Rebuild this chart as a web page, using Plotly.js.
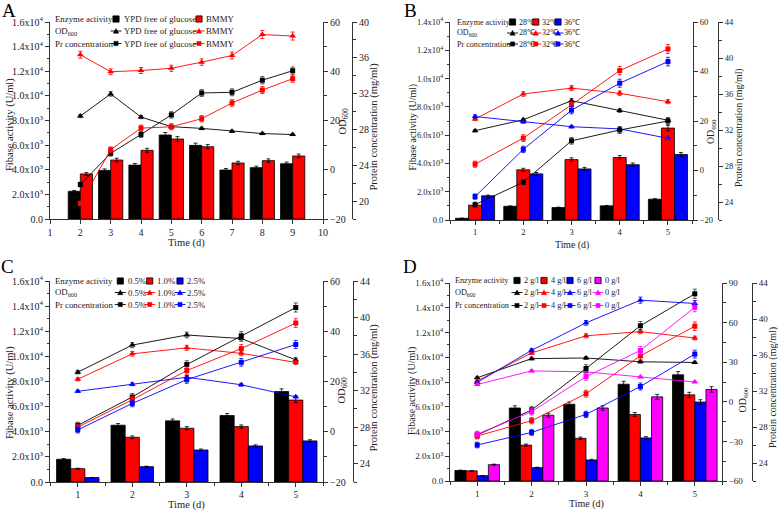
<!DOCTYPE html>
<html><head><meta charset="utf-8">
<script src="https://cdn.plot.ly/plotly-3.0.1.min.js"></script>
<style>html,body{margin:0;padding:0;background:#fff}#chart{width:778px;height:511px}</style>
</head><body><div id="chart"></div>
<script>
// ---------------- DATA ----------------
// Panel A
const A_days = [2, 3, 4, 5, 6, 7, 8, 9];
const A_names = ['YPD free of glucose', 'BMMY'];
const A_bar_ypd = [2250, 3950, 4380, 6820, 5980, 3980, 4170, 4490];
const A_bar_bmmy = [3660, 4790, 5580, 6500, 5870, 4550, 4740, 5120];
const A_od_ypd = [21.8, 30.8, 21.4, 17.5, 16.8, 15.6, 14.7, 14.3];
const A_od_bmmy = [46.7, 39.8, 40.3, 41.2, 43.7, 46.4, 54.9, 54.3];
const A_pr_ypd = [21.85, 25.33, 27.44, 29.63, 32.07, 32.15, 33.5, 34.56];
const A_pr_bmmy = [19.74, 25.74, 28.15, 28.3, 29.2, 30.96, 32.4, 33.67];

// Panel B
const B_days = [1, 2, 3, 4, 5];
const B_names = ['28℃', '32℃', '36℃'];
const B_bar_28 = [120, 970, 880, 1000, 1470];
const B_bar_32 = [1050, 3550, 4270, 4420, 6500];
const B_bar_36 = [1710, 3260, 3610, 3910, 4630];
const B_od_28 = [16.1, 20.5, 28.2, 24.2, 20.3];
const B_od_32 = [20.8, 30.9, 33.3, 31.2, 27.8];
const B_od_36 = [21.8, 19.7, 17.7, 16.8, 13.0];
const B_pr_28 = [23.7, 26.2, 30.8, 32.0, 33.0];
const B_pr_32 = [28.2, 31.1, 34.8, 38.6, 41.0];
const B_pr_36 = [24.6, 29.85, 34.2, 37.2, 39.6];

// Panel C
const C_days = [1, 2, 3, 4, 5];
const C_names = ['0.5%', '1.0%', '2.5%'];
const C_bar_05 = [1810, 4520, 4870, 5290, 7200];
const C_bar_10 = [1060, 3560, 4280, 4410, 6520];
const C_bar_25 = [350, 1220, 2550, 2870, 3270];
const C_od_05 = [23.7, 34.5, 38.5, 37.1, 28.6];
const C_od_10 = [20.9, 31.0, 33.4, 31.2, 27.6];
const C_od_25 = [16.1, 18.9, 21.7, 18.7, 13.9];
const C_pr_05 = [28.2, 31.3, 34.85, 38.0, 41.1];
const C_pr_10 = [28.0, 31.0, 34.2, 36.6, 39.4];
const C_pr_25 = [27.7, 30.6, 33.2, 35.1, 37.05];

// Panel D
const D_days = [1, 2, 3, 4, 5];
const D_names = ['2 g/l', '4 g/l', '6 g/l', '0 g/l'];
const D_bar_2 = [850, 5900, 6200, 7820, 8580];
const D_bar_4 = [820, 2900, 3450, 5370, 6960];
const D_bar_6 = [430, 1080, 1700, 3480, 6380];
const D_bar_0 = [1320, 5320, 5900, 6800, 7400];
const D_od_2 = [18.2, 32.7, 33.2, 30.3, 29.8];
const D_od_4 = [15.8, 37.0, 50.0, 53.2, 48.3];
const D_od_6 = [14.7, 39.0, 59.8, 77.0, 74.5];
const D_od_0 = [13.1, 23.4, 22.7, 18.8, 15.0];
const D_pr_2 = [27.1, 29.9, 34.5, 39.25, 42.8];
const D_pr_4 = [27.0, 28.7, 31.7, 35.9, 39.2];
const D_pr_6 = [26.0, 27.4, 29.4, 32.5, 36.1];
const D_pr_0 = [27.2, 29.7, 33.6, 36.5, 41.3];

// Tick labels
const fib16_vals = [0, 2000, 4000, 6000, 8000, 10000, 12000, 14000, 16000];
const fib16_text = ['0.0', '2.0x10<sup>3</sup>', '4.0x10<sup>3</sup>', '6.0x10<sup>3</sup>', '8.0x10<sup>3</sup>',
  '1.0x10<sup>4</sup>', '1.2x10<sup>4</sup>', '1.4x10<sup>4</sup>', '1.6x10<sup>4</sup>'];
const fib14_vals = fib16_vals.slice(0, 8);
const fib14_text = fib16_text.slice(0, 8);
const A_xticks = [1, 2, 3, 4, 5, 6, 7, 8, 9, 10];
const BCD_xticks = [1, 2, 3, 4, 5];
const od_ticks = [-20, 0, 20, 40, 60];
const odD_ticks = [-60, -30, 0, 30, 60, 90];
const prA_ticks = [20, 24, 28, 32, 36, 40];
const pr_ticks = [24, 28, 32, 36, 40, 44];
const rowLabels = ['Enzyme activity', 'OD<sub>600</sub>', 'Pr concentration'];
const titleFib = 'Fibase activity (U/ml)';
const titleOD = 'OD<sub>600</sub>';
const titlePr = 'Protein concentration (mg/ml)';
const titleX = 'Time (d)';

// ---------------- BUILD ----------------
const W = 778, H = 511;
const FONT = 'Liberation Serif, Times New Roman, serif';
const K = '#000000', R = '#ff0000', Bl = '#0000ff', M = '#ff00ff';
const AX = '#333333';
const TXT = '#222222';
const px = x => x / W;
const py = y => 1 - y / H;

const traces = [];
const shapes = [];
const annotations = [];
const layout = {
  width: W, height: H, margin: {l: 0, r: 0, t: 0, b: 0},
  paper_bgcolor: '#fff', plot_bgcolor: 'rgba(0,0,0,0)',
  barmode: 'overlay', showlegend: false,
  font: {family: FONT, size: 10, color: TXT},
  shapes: shapes, annotations: annotations
};

function baseAxis(fs, extra) {
  return Object.assign({
    showline: true, linecolor: AX, linewidth: 1, showgrid: false, zeroline: false,
    ticks: 'outside', ticklen: 4, tickcolor: AX, tickwidth: 1,
    tickfont: {family: FONT, size: fs, color: TXT},
    fixedrange: true
  }, extra);
}

function title(text, x, y, fs, ang) {
  annotations.push({xref: 'paper', yref: 'paper', x: px(x), y: py(y), text: text, textangle: ang,
    showarrow: false, xanchor: 'center', yanchor: 'middle', borderpad: 0,
    font: {family: FONT, size: fs, color: TXT}});
}

function addPanel(p) {
  const xn = p.xi === 1 ? '' : String(p.xi);
  const yn = i => (i === 1 ? '' : String(i));
  const xa = 'x' + xn, ya = 'y' + yn(p.yi), yb = 'y' + yn(p.yi + 1), yc = 'y' + yn(p.yi + 2);
  p.bars.forEach((b, i) => traces.push({
    type: 'bar', x: p.x, y: b, xaxis: xa, yaxis: ya,
    width: p.bw, offset: p.off[i],
    marker: {color: p.colors[i], line: {color: '#000', width: 0.8}},
    error_y: {type: 'percent', value: 3, color: '#000', thickness: 0.8, width: 2}
  }));
  p.od.forEach((s, i) => traces.push({
    type: 'scatter', mode: 'lines+markers', x: p.x, y: s, xaxis: xa, yaxis: yb,
    line: {color: p.colors[i], width: 0.9},
    marker: {symbol: 'triangle-up', size: 6, color: p.colors[i]},
    error_y: {type: 'percent', value: 3, color: p.colors[i] === K ? '#333' : p.colors[i], thickness: 0.8, width: 2}
  }));
  p.pr.forEach((s, i) => traces.push({
    type: 'scatter', mode: 'lines+markers', x: p.x, y: s, xaxis: xa, yaxis: yc,
    line: {color: p.colors[i], width: 0.9},
    marker: {symbol: 'square', size: 5, color: p.colors[i]},
    error_y: {type: 'percent', value: 1.2, color: p.colors[i] === K ? '#333' : p.colors[i], thickness: 0.8, width: 2}
  }));
  const xd = [px(p.L), px(p.Rx)], yd = [py(p.B), py(p.T)];
  layout['xaxis' + xn] = baseAxis(p.xtickfs || p.tickfs, {
    domain: xd, anchor: ya, range: p.xr, tickmode: 'array', tickvals: p.xt,
    minor: p.xminor ? {dtick: 0.5, tick0: 0.5, ticklen: 2.5, ticks: 'outside', tickcolor: AX} : undefined
  });
  layout['yaxis' + yn(p.yi)] = baseAxis(p.tickfs, {
    domain: yd, anchor: xa, range: p.fr, tickmode: 'array', tickvals: p.fv, ticktext: p.ft,
    minor: {dtick: 1000, tick0: 0, ticklen: 2.5, ticks: 'outside', tickcolor: AX}
  });
  layout['yaxis' + yn(p.yi + 1)] = baseAxis(p.tickfs, {
    domain: yd, anchor: xa, overlaying: ya, side: 'right', range: p.odr,
    tickmode: 'array', tickvals: p.odt,
    minor: {dtick: p.odm, tick0: 0, ticklen: 2.5, ticks: 'outside', tickcolor: AX}
  });
  layout['yaxis' + yn(p.yi + 2)] = baseAxis(p.tickfs, {
    domain: yd, anchor: 'free', position: px(p.P), overlaying: ya, side: 'right', range: p.prr,
    tickmode: 'array', tickvals: p.prt,
    minor: {dtick: 2, tick0: 0, ticklen: 2.5, ticks: 'outside', tickcolor: AX}
  });
  title(titleX, (p.L + p.Rx) / 2, p.xty, p.titfs, 0);
  title(titleFib, p.tt[0][0], p.tt[0][1], p.titfs, -90);
  title(titleOD, p.tt[1][0], p.tt[1][1], p.titfs, -90);
  title(titlePr, p.tt[2][0], p.tt[2][1], p.titfs, -90);
  annotations.push({xref: 'paper', yref: 'paper', x: px(p.letter[1]), y: py(p.letter[2]),
    text: p.letter[0], showarrow: false, xanchor: 'center', yanchor: 'middle',
    font: {family: FONT, size: 19, color: '#000'}});
  const lg = p.lg;
  const lf = {family: FONT, size: p.legfs, color: TXT};
  rowLabels.forEach((t, r) => annotations.push({xref: 'paper', yref: 'paper', x: px(lg.lx), y: py(lg.rows[r]),
    text: t, showarrow: false, xanchor: 'left', yanchor: 'middle', font: lf}));
  p.names.forEach((nm, i) => {
    const cx = lg.cx[i], tx = lg.tx[i], c = p.colors[i];
    const s = 3.1;
    shapes.push({type: 'rect', xref: 'paper', yref: 'paper', x0: px(cx - s), x1: px(cx + s),
      y0: py(lg.rows[0] + s), y1: py(lg.rows[0] - s), fillcolor: c, line: {color: '#000', width: 0.8}});
    const r1 = lg.rows[1];
    shapes.push({type: 'line', xref: 'paper', yref: 'paper', x0: px(cx - 5.5), x1: px(cx + 5.5),
      y0: py(r1), y1: py(r1), line: {color: c, width: 0.9}});
    shapes.push({type: 'path', xref: 'paper', yref: 'paper',
      path: `M ${px(cx - 2.7)} ${py(r1 + 2.2)} L ${px(cx + 2.7)} ${py(r1 + 2.2)} L ${px(cx)} ${py(r1 - 2.6)} Z`,
      fillcolor: c, line: {color: c, width: 0.5}});
    const r2 = lg.rows[2];
    shapes.push({type: 'line', xref: 'paper', yref: 'paper', x0: px(cx - 5.5), x1: px(cx + 5.5),
      y0: py(r2), y1: py(r2), line: {color: c, width: 0.9}});
    shapes.push({type: 'rect', xref: 'paper', yref: 'paper', x0: px(cx - 2.1), x1: px(cx + 2.1),
      y0: py(r2 + 2.1), y1: py(r2 - 2.1), fillcolor: c, line: {color: c, width: 0.5}});
    for (let r = 0; r < 3; r++) {
      annotations.push({xref: 'paper', yref: 'paper', x: px(tx), y: py(lg.rows[r]), text: nm,
        showarrow: false, xanchor: 'left', yanchor: 'middle', font: lf});
    }
  });
}

addPanel({
  xi: 1, yi: 1, x: A_days, colors: [K, R], names: A_names,
  bars: [A_bar_ypd, A_bar_bmmy], od: [A_od_ypd, A_od_bmmy], pr: [A_pr_ypd, A_pr_bmmy],
  bw: 0.4, off: [-0.4, 0],
  L: 50, Rx: 323, T: 22, B: 219, P: 352,
  xr: [1, 10], xt: A_xticks, xminor: false,
  fr: [0, 16000], fv: fib16_vals, ft: fib16_text,
  odr: [-20, 60], odt: od_ticks, odm: 10,
  prr: [18, 40], prt: prA_ticks,
  tickfs: 10, titfs: 10.5, legfs: 8.8, xty: 243,
  tt: [[10, 125], [343.5, 121], [373.5, 127]],
  letter: ['A', 9, 10],
  lg: {rows: [19, 31, 43.5], lx: 52.5, cx: [116, 199], tx: [121.5, 204]}
});
addPanel({
  xi: 2, yi: 4, x: B_days, colors: [K, R, Bl], names: B_names,
  bars: [B_bar_28, B_bar_32, B_bar_36], od: [B_od_28, B_od_32, B_od_36], pr: [B_pr_28, B_pr_32, B_pr_36],
  bw: 0.27, off: [-0.405, -0.135, 0.135],
  L: 450, Rx: 693, T: 22, B: 220, P: 718,
  xr: [0.48, 5.52], xt: BCD_xticks, xminor: true,
  fr: [0, 14000], fv: fib14_vals, ft: fib14_text,
  odr: [-20, 60], odt: od_ticks, odm: 10,
  prr: [22, 44], prt: pr_ticks,
  tickfs: 8.5, titfs: 9.8, legfs: 8.1, xty: 245,
  tt: [[412.5, 127], [711, 132], [739, 128]],
  letter: ['B', 410, 10],
  lg: {rows: [22, 33, 44], lx: 455, cx: [512.5, 535.8, 558], tx: [516.5, 539.7, 562.3]}
});
addPanel({
  xi: 3, yi: 7, x: C_days, colors: [K, R, Bl], names: C_names,
  bars: [C_bar_05, C_bar_10, C_bar_25], od: [C_od_05, C_od_10, C_od_25], pr: [C_pr_05, C_pr_10, C_pr_25],
  bw: 0.26, off: [-0.39, -0.13, 0.13],
  L: 50, Rx: 323, T: 281, B: 482, P: 353,
  xr: [0.49, 5.5], xt: BCD_xticks, xminor: true,
  fr: [0, 16000], fv: fib16_vals, ft: fib16_text,
  odr: [-20, 60], odt: od_ticks, odm: 10,
  prr: [22, 44], prt: pr_ticks,
  tickfs: 10, xtickfs: 9.5, titfs: 10.5, legfs: 8.8, xty: 504.5,
  tt: [[10, 393], [341.5, 390], [373.5, 388]],
  letter: ['C', 8, 266.5],
  lg: {rows: [281, 292.5, 304.5], lx: 53, cx: [120.3, 149.7, 180], tx: [125.5, 155, 185]}
});
addPanel({
  xi: 4, yi: 10, x: D_days, colors: [K, R, Bl, M], names: D_names,
  bars: [D_bar_2, D_bar_4, D_bar_6, D_bar_0], od: [D_od_2, D_od_4, D_od_6, D_od_0], pr: [D_pr_2, D_pr_4, D_pr_6, D_pr_0],
  bw: 0.205, off: [-0.41, -0.205, 0, 0.205],
  L: 450, Rx: 722, T: 283, B: 481, P: 752,
  xr: [0.5, 5.5], xt: BCD_xticks, xminor: true,
  fr: [0, 16000], fv: fib16_vals, ft: fib16_text,
  odr: [-60, 90], odt: odD_ticks, odm: 15,
  prr: [22, 44], prt: pr_ticks,
  tickfs: 9, titfs: 10, legfs: 8.2, xty: 504,
  tt: [[411.5, 391.5], [742.5, 400], [773, 388]],
  letter: ['D', 410, 266.5],
  lg: {rows: [280.5, 292.5, 305.5], lx: 453, cx: [517, 544, 570, 598], tx: [522, 549.3, 575.3, 603.3]}
});

Plotly.newPlot('chart', traces, layout, {staticPlot: true, displayModeBar: false});
</script></body></html>
